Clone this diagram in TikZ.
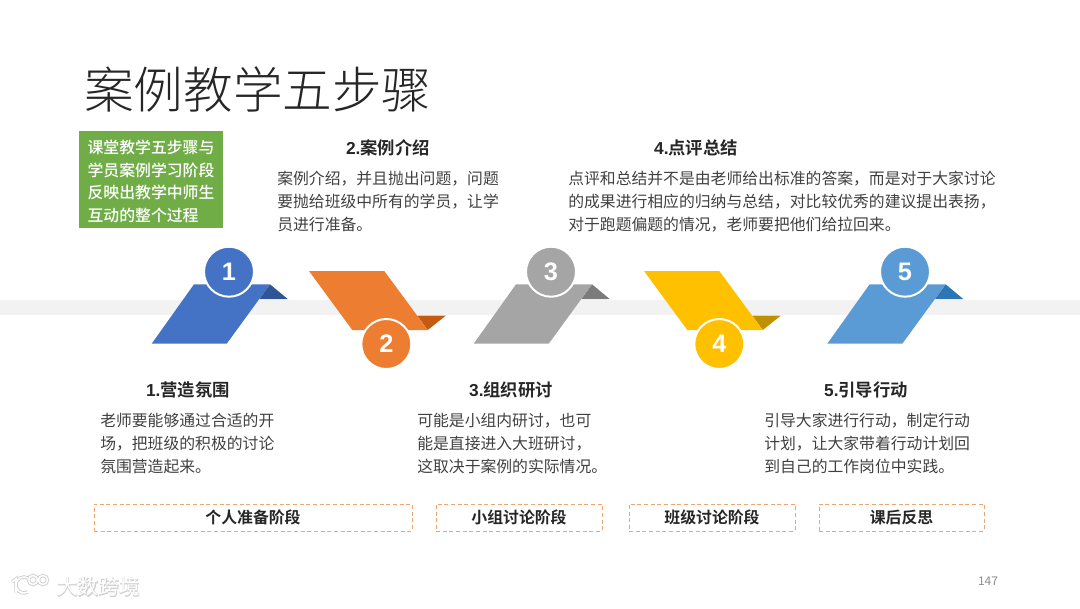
\documentclass[tikz,border=0pt]{standalone}
\usepackage{fontspec}
\setmainfont{Noto Sans CJK SC}
\newfontfamily\titlefont{Noto Sans CJK SC Light}
\newfontfamily\headfont{Noto Sans CJK SC Bold}
\newfontfamily\medfont{Noto Sans CJK SC Medium}
\newfontfamily\numfont{Liberation Sans Bold}
\newfontfamily\markfont[FakeBold=4]{Noto Sans CJK SC}
\usetikzlibrary{positioning}

\definecolor{bluea}{HTML}{4472C4}
\definecolor{blueb}{HTML}{2F5597}
\definecolor{orangea}{HTML}{ED7D31}
\definecolor{orangeb}{HTML}{C55A11}
\definecolor{graya}{HTML}{A5A5A5}
\definecolor{grayb}{HTML}{7B7B7B}
\definecolor{yellowa}{HTML}{FFC000}
\definecolor{yellowb}{HTML}{BF9000}
\definecolor{skya}{HTML}{5B9BD5}
\definecolor{skyb}{HTML}{2E75B6}
\definecolor{greena}{HTML}{70AD47}
\definecolor{bodytext}{HTML}{404040}

\begin{document}
\begin{tikzpicture}[
    x=0.75pt,y=-0.75pt,
    badge/.style={circle,draw=white,line width=1.5pt,inner sep=0pt,minimum size=37.5pt,text=white,font=\numfont\fontsize{19}{20}\selectfont},
    head/.style={inner sep=0pt,text=black!85,font=\headfont\fontsize{13}{15}\selectfont},
    body/.style={inner sep=0pt,text=bodytext,align=left,anchor=north west,font=\fontsize{11.87}{17.25}\selectfont},
    stage/.style={draw=orangea!70,densely dashed,line width=0.4pt,minimum height=20.25pt,inner sep=0pt,text=black!85,font=\headfont\fontsize{11.9}{14}\selectfont}
    ]
    \useasboundingbox (0,0) rectangle (1080,608);

    \node (titletext) [inner sep=0pt,anchor=west,text=black!85,font=\titlefont\fontsize{37.2}{40}\selectfont] at (84,90) {案例教学五步骤};

    \fill[black!5] (0,300) rectangle (1080,315);

    % ribbons that go up, tail on the upper side
    \foreach \dx/\main/\dark in {0/bluea/blueb,322/graya/grayb,675.6/skya/skyb}
      {\fill[\dark] (\dx+270,284.3) -- (\dx+287.7,299) -- (\dx+259.3,299) -- cycle;
       \fill[\main] (\dx+151.7,343.7) -- (\dx+226.7,343.7) -- (\dx+270,284.3) -- (\dx+194,284.3) -- cycle;
      }

    % ribbons that go down
    \foreach \dx/\main/\dark in {0/orangea/orangeb,335/yellowa/yellowb}
      {\fill[\dark] (\dx+417.3,315.7) -- (\dx+445.7,315.7) -- (\dx+427.7,330) -- cycle;
       \fill[\main] (\dx+309,271) -- (\dx+384.3,271) -- (\dx+427.7,330) -- (\dx+352.3,330) -- cycle;
      }

    \node (one) [badge,fill=bluea] at (229,271.7) {1};
    \node (two) [badge,fill=orangea] at (386.3,344) {2};
    \node (three) [badge,fill=graya] at (551,271.7) {3};
    \node (four) [badge,fill=yellowa] at (719.3,344) {4};
    \node (five) [badge,fill=skya] at (905,271.7) {5};

    \node (intro) [fill=greena,inner sep=0pt,minimum width=108pt,minimum height=72.75pt] at (151,179.5) {};
    \node (introtext) [text=white,inner sep=0pt,align=left,font=\medfont\fontsize{11.9}{17}\selectfont] at (151,181.5)
      {课堂教学五步骤与\\学员案例学习阶段\\反映出教学中师生\\互动的整个过程};

    \node (headone) [head] at (188,390) {{\numfont 1.}营造氛围};
    \node (bodyone) [body] at (100,413) {老师要能够通过合适的开\\场，把班级的积极的讨论\\氛围营造起来。};

    \node (headtwo) [head] at (388,148) {{\numfont 2.}案例介绍};
    \node (bodytwo) [body] at (277,171) {案例介绍，并且抛出问题，问题\\要抛给班级中所有的学员，让学\\员进行准备。};

    \node (headthree) [head] at (511,390) {{\numfont 3.}组织研讨};
    \node (bodythree) [body] at (417,413) {可能是小组内研讨，也可\\能是直接进入大班研讨，\\这取决于案例的实际情况。};

    \node (headfour) [head] at (696,148) {{\numfont 4.}点评总结};
    \node (bodyfour) [body] at (568,171) {点评和总结并不是由老师给出标准的答案，而是对于大家讨论\\的成果进行相应的归纳与总结，对比较优秀的建议提出表扬，\\对于跑题偏题的情况，老师要把他们给拉回来。};

    \node (headfive) [head] at (866,390) {{\numfont 5.}引导行动};
    \node (bodyfive) [body] at (764,413) {引导大家进行行动，制定行动\\计划，让大家带着行动计划回\\到自己的工作岗位中实践。};

    \node (stageone) [stage,minimum width=238.5pt] at (253,517.5) {个人准备阶段};
    \node (stagetwo) [stage,minimum width=124.5pt] at (519,517.5) {小组讨论阶段};
    \node (stagethree) [stage,minimum width=124.5pt] at (712,517.5) {班级讨论阶段};
    \node (stagefour) [stage,minimum width=123.75pt] at (901.5,517.5) {课后反思};

    \node (pagenum) [inner sep=0pt,text=black!45,font=\fontsize{9}{10}\selectfont] at (988,581) {147};

    % watermark
    \node (markback) [inner sep=0pt,text=black!18,font=\markfont\fontsize{15.5}{18}\selectfont] at (98.5,587) {大数跨境};
    \node (markfront) [inner sep=0pt,text=white,font=\fontsize{15.5}{18}\selectfont] at (98.5,587) {大数跨境};
    \foreach \w/\c in {2.6/black!18,1.2/white}
      {\draw[\c,line width=\w] (12,582) -- (16,579) -- (16,593);
       \draw[\c,line width=\w] (28,591.9) arc (60:300:8);
       \draw[\c,line width=\w] (33,580) circle (4.5) (43,580) circle (4.5);
      }
  \end{tikzpicture}
\end{document}
